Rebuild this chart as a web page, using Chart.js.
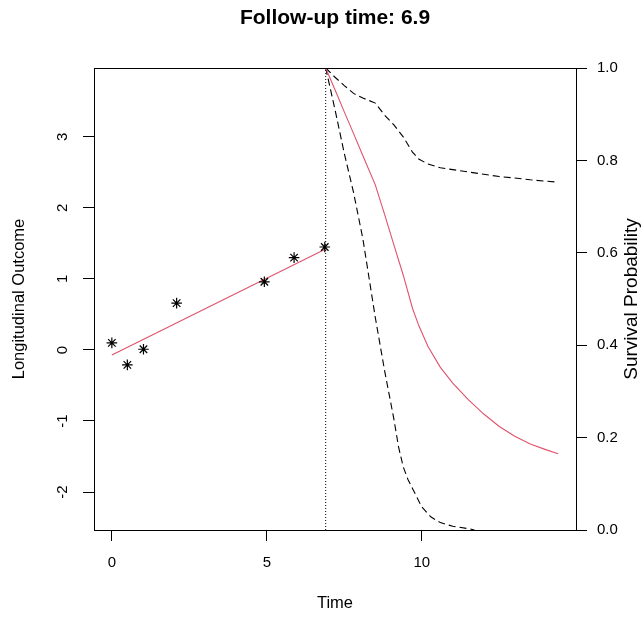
<!DOCTYPE html>
<html><head><meta charset="utf-8">
<script src="https://cdn.jsdelivr.net/npm/chart.js@4.4.0/dist/chart.umd.min.js"></script>
<style>html,body{margin:0;padding:0;background:#fff;} canvas{display:block;}</style>
</head><body>
<canvas id="c" width="644" height="618"></canvas>
<script>
// ---- data ----
const titleText = 'Follow-up time: 6.9';
const followUp = 6.9;
const obsTime  = [0, 0.5, 1.02, 2.09, 4.92, 5.88, 6.87];
const obsValue = [0.10, -0.21, 0.01, 0.66, 0.96, 1.30, 1.45];
const fitTime  = [0, 6.9];
const fitValue = [-0.07, 1.42];
const survTime  = [6.9, 7.2, 7.5, 7.8, 8.1, 8.5, 8.8, 9.1, 9.4, 9.7, 9.9, 10.2, 10.6, 11.0, 11.5, 12.0, 12.5, 13.0, 13.5, 14.0, 14.4];
const survMean  = [1.0, 0.953, 0.905, 0.858, 0.81, 0.747, 0.683, 0.617, 0.552, 0.48, 0.443, 0.397, 0.352, 0.318, 0.282, 0.251, 0.224, 0.203, 0.186, 0.174, 0.165];
const survUpper = [1.0, 0.98, 0.962, 0.945, 0.935, 0.924, 0.898, 0.877, 0.851, 0.818, 0.803, 0.792, 0.784, 0.78, 0.775, 0.77, 0.765, 0.762, 0.758, 0.755, 0.753];
const lowerTime = [6.9, 7.2, 7.5, 7.8, 8.1, 8.5, 8.8, 9.1, 9.25, 9.4, 9.55, 9.7, 10.0, 10.3, 10.6, 11.0, 11.5, 11.7];
const survLower = [1.0, 0.91, 0.815, 0.73, 0.63, 0.46, 0.345, 0.24, 0.18, 0.137, 0.11, 0.09, 0.05, 0.028, 0.016, 0.008, 0.003, 0.0];
const xTicks  = [0, 5, 10];
const yTicks  = [-2, -1, 0, 1, 2, 3];
const y2Ticks = [0, 0.2, 0.4, 0.6, 0.8, 1.0];
const xRange  = [-0.576, 14.976];
const yRange  = [-2.535, 3.97];
const y2Range = [0, 1];

const FONT = '"Liberation Sans", Arial, Helvetica, sans-serif';
const RED = '#DF536B';
const pts = (xs, ys) => xs.map((x, i) => ({x, y: ys[i]}));

const decor = {
  id: 'decor',
  afterDraw(chart) {
    const {ctx, chartArea: a, scales} = chart;
    ctx.save();
    ctx.strokeStyle = '#000';
    ctx.lineWidth = 1;
    const L = Math.round(a.left), T = Math.round(a.top), R = Math.round(a.right), B = Math.round(a.bottom);
    ctx.strokeRect(L + 0.5, T + 0.5, R - L, B - T);
    ctx.fillStyle = '#000';
    // main title, centred over the plot region (R style)
    ctx.font = 'bold 21px ' + FONT;
    ctx.textAlign = 'center';
    ctx.textBaseline = 'middle';
    ctx.fillText(titleText, (a.left + a.right) / 2, 18);
    // left tick labels (vertical, R style)
    const ys = scales.y;
    ctx.font = '15px ' + FONT;
    ys.ticks.forEach(t => {
      const py = ys.getPixelForValue(t.value);
      ctx.save();
      ctx.translate(ys.right - 31, py);
      ctx.rotate(-Math.PI / 2);
      ctx.fillText(String(t.value), 0, 0);
      ctx.restore();
    });
    // right axis title (reads bottom-to-top)
    ctx.font = '19px ' + FONT;
    ctx.save();
    ctx.translate(632, (a.top + a.bottom) / 2);
    ctx.rotate(-Math.PI / 2);
    ctx.fillText('Survival Probability', 0, 0);
    ctx.restore();
    ctx.restore();
  }
};

const gridOpts = {drawOnChartArea: false, drawTicks: true, tickLength: 11, color: '#000', lineWidth: 1};
const borderOpts = {display: true, color: '#000', width: 1};
const dash = [7, 4];

new Chart(document.getElementById('c'), {
  type: 'scatter',
  data: {
    datasets: [
      {label: 'obs', data: pts(obsTime, obsValue), yAxisID: 'y', pointStyle: 'star', pointRadius: 5.3,
       borderColor: '#000', backgroundColor: '#000', borderWidth: 1.2, showLine: false},
      {label: 'fit', data: pts(fitTime, fitValue), yAxisID: 'y', showLine: true, pointRadius: 0,
       borderColor: RED, borderWidth: 1.1},
      {label: 'followup', data: [{x: followUp, y: y2Range[0]}, {x: followUp, y: y2Range[1]}], yAxisID: 'y2',
       showLine: true, pointRadius: 0, borderColor: '#000', borderWidth: 1, borderDash: [1, 2]},
      {label: 'mean', data: pts(survTime, survMean), yAxisID: 'y2', showLine: true, pointRadius: 0,
       borderColor: RED, borderWidth: 1.1, tension: 0},
      {label: 'upper', data: pts(survTime, survUpper), yAxisID: 'y2', showLine: true, pointRadius: 0,
       borderColor: '#000', borderWidth: 1.1, borderDash: dash},
      {label: 'lower', data: pts(lowerTime, survLower), yAxisID: 'y2', showLine: true, pointRadius: 0,
       borderColor: '#000', borderWidth: 1.1, borderDash: dash}
    ]
  },
  options: {
    responsive: false,
    animation: false,
    devicePixelRatio: 1,
    layout: {padding: {top: 68, left: 0, right: 0, bottom: 0}},
    plugins: {
      legend: {display: false},
      tooltip: {enabled: false},
      title: {display: false}
    },
    scales: {
      x: {
        type: 'linear', position: 'bottom', min: xRange[0], max: xRange[1],
        afterBuildTicks: s => { s.ticks = xTicks.map(v => ({value: v})); },
        afterFit: s => { s.height = 88; },
        grid: gridOpts, border: borderOpts,
        ticks: {color: '#000', font: {family: FONT, size: 15}, padding: 13, maxRotation: 0, callback: v => String(v)},
        title: {display: true, text: 'Time', color: '#000', font: {family: FONT, size: 16.5, lineHeight: 1.2}, padding: {top: 0, bottom: 5}}
      },
      y: {
        type: 'linear', position: 'left', min: yRange[0], max: yRange[1],
        afterBuildTicks: s => { s.ticks = yTicks.map(v => ({value: v})); },
        afterFit: s => { s.width = 94; },
        grid: gridOpts, border: borderOpts,
        ticks: {display: false},
        title: {display: true, text: 'Longitudinal Outcome', color: '#000', font: {family: FONT, size: 16.5, lineHeight: 1.2}, padding: {top: 10, bottom: 0}}
      },
      y2: {
        type: 'linear', position: 'right', min: y2Range[0], max: y2Range[1],
        afterBuildTicks: s => { s.ticks = y2Ticks.map(v => ({value: v})); },
        afterFit: s => { s.width = 68; },
        grid: gridOpts, border: borderOpts,
        ticks: {color: '#000', font: {family: FONT, size: 15}, padding: 10, callback: v => Number(v).toFixed(1)}
      }
    }
  },
  plugins: [decor]
});
</script>
</body></html>
